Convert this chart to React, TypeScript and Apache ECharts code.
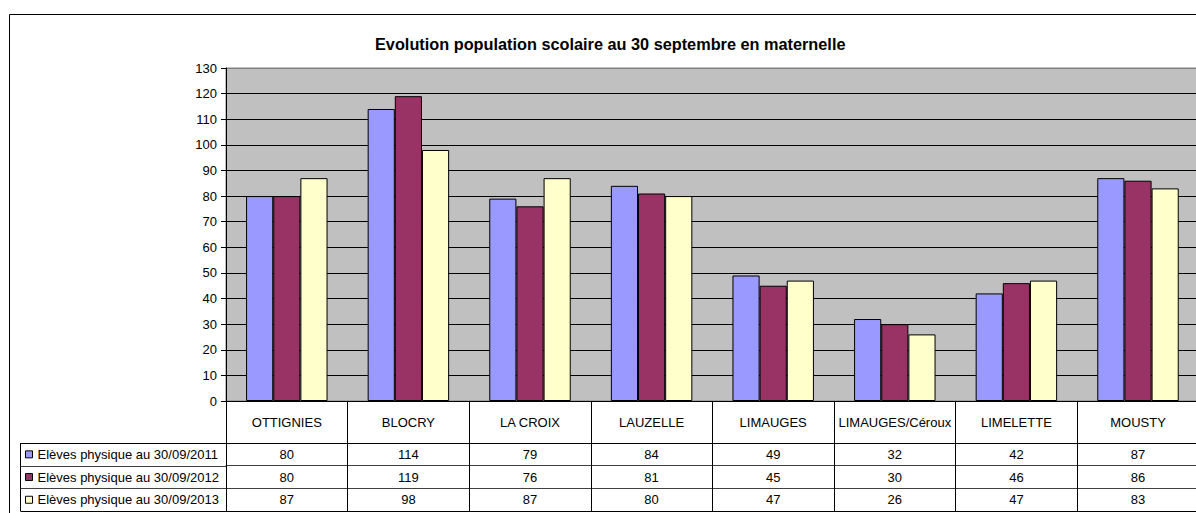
import React, { useEffect, useRef } from "react";
import * as echarts from "echarts";

const categories = [
  "OTTIGNIES",
  "BLOCRY",
  "LA CROIX",
  "LAUZELLE",
  "LIMAUGES",
  "LIMAUGES/Céroux",
  "LIMELETTE",
  "MOUSTY",
];
const seriesNames = [
  "Elèves physique au 30/09/2011",
  "Elèves physique au 30/09/2012",
  "Elèves physique au 30/09/2013",
];
const values2011 = [80, 114, 79, 84, 49, 32, 42, 87];
const values2012 = [80, 119, 76, 81, 45, 30, 46, 86];
const values2013 = [87, 98, 87, 80, 47, 26, 47, 83];
const seriesColors = ["#9999FF", "#993366", "#FFFFCC"];
const yTicks = { min: 0, max: 130, interval: 10 };

const FONT = "'Liberation Sans', Arial, sans-serif";
const GRID_LEFT = 226;
const GRID_TOP = 68;
const CELL_W = 121.6;
const GRID_H = 333;
const HEADER_H = 42;
const ROW_H = 22.7;
const TABLE_LEFT = 20.5;

export default function App() {
  const ref = useRef<HTMLDivElement>(null);
  useEffect(() => {
    if (!ref.current) return;
    const chart = echarts.init(ref.current, null, { renderer: "svg" });
    const rows = [values2011, values2012, values2013];
    const gridBottomY = GRID_TOP + GRID_H;
    const lineCount = (yTicks.max - yTicks.min) / yTicks.interval + 1;
    const splitColors = Array.from({ length: lineCount }, (_, i) =>
      i === lineCount - 1 ? "#808080" : "#000000"
    );

    const rowAxes = rows.map((row, r) => ({
      type: "category",
      gridIndex: 0,
      position: "bottom",
      offset: HEADER_H + r * ROW_H,
      data: categories,
      boundaryGap: true,
      axisLine: { show: true, lineStyle: { color: r === 0 ? "#000" : "#404040", width: 1 } },
      axisTick: { show: true, length: ROW_H, alignWithLabel: false, interval: 0, lineStyle: { color: "#000" } },
      axisLabel: {
        show: true,
        interval: 0,
        margin: ROW_H / 2,
        verticalAlign: "middle",
        fontSize: 13,
        fontFamily: FONT,
        color: "#000",
        formatter: (_v: string, i: number) => String(row[i]),
      },
      splitLine: { show: false },
    }));

    const tableBottomOffset = HEADER_H + 3 * ROW_H;

    const graphicEls: any[] = [
      {
        type: "rect",
        shape: { x: 9.5, y: 14.5, width: 1400, height: 600 },
        style: { fill: "none", stroke: "#000", lineWidth: 1 },
        silent: true,
      },
      {
        type: "line",
        shape: {
          x1: TABLE_LEFT,
          y1: gridBottomY + HEADER_H,
          x2: TABLE_LEFT,
          y2: gridBottomY + tableBottomOffset,
        },
        style: { stroke: "#000", lineWidth: 1 },
        silent: true,
      },
    ];
    for (let r = 0; r <= 3; r++) {
      const y = Math.round(gridBottomY + HEADER_H + r * ROW_H) + 0.5;
      graphicEls.push({
        type: "line",
        shape: { x1: TABLE_LEFT, y1: y, x2: GRID_LEFT, y2: y },
        style: { stroke: r === 0 || r === 3 ? "#000" : "#404040", lineWidth: 1 },
        silent: true,
      });
    }

    chart.setOption({
      animation: false,
      backgroundColor: "#ffffff",
      title: {
        text: "Evolution population scolaire au 30 septembre en maternelle",
        left: 370,
        top: 31,
        textStyle: { fontSize: 16.3, fontWeight: "bold", fontFamily: FONT, color: "#000" },
      },
      legend: {
        orient: "vertical",
        left: 25,
        top: gridBottomY + HEADER_H + (ROW_H - 13) / 2,
        padding: 0,
        itemWidth: 7,
        itemHeight: 7,
        itemGap: ROW_H - 13,
        icon: "rect",
        data: seriesNames,
        textStyle: { fontSize: 13, lineHeight: 13, fontFamily: FONT, color: "#000" },
        itemStyle: { borderColor: "#000", borderWidth: 1 },
        selectedMode: false,
      },
      grid: {
        left: GRID_LEFT,
        top: GRID_TOP,
        width: CELL_W * categories.length,
        height: GRID_H,
        show: true,
        backgroundColor: "#C0C0C0",
        borderColor: "#808080",
        borderWidth: 1,
        containLabel: false,
      },
      xAxis: [
        {
          type: "category",
          position: "bottom",
          data: categories,
          boundaryGap: true,
          axisLine: { show: true, lineStyle: { color: "#000", width: 1 } },
          axisTick: { show: true, length: HEADER_H, alignWithLabel: false, interval: 0, lineStyle: { color: "#000" } },
          axisLabel: {
            interval: 0,
            margin: HEADER_H / 2,
            verticalAlign: "middle",
            fontSize: 13,
            fontFamily: FONT,
            color: "#000",
          },
          splitLine: { show: false },
        },
        ...rowAxes,
        {
          type: "category",
          position: "bottom",
          offset: tableBottomOffset,
          data: categories,
          axisLine: { show: true, lineStyle: { color: "#000", width: 1 } },
          axisTick: { show: false },
          axisLabel: { show: false },
          splitLine: { show: false },
        },
      ],
      yAxis: {
        type: "value",
        min: yTicks.min,
        max: yTicks.max,
        interval: yTicks.interval,
        axisLine: { show: true, lineStyle: { color: "#000", width: 1 } },
        axisTick: { show: true, length: 5, lineStyle: { color: "#000" } },
        axisLabel: { margin: 9, fontSize: 13, fontFamily: FONT, color: "#000" },
        splitLine: { show: true, lineStyle: { color: splitColors, width: 1 } },
      },
      series: rows.map((row, i) => ({
        name: seriesNames[i],
        type: "bar",
        xAxisIndex: 0,
        data: row,
        barGap: "0%",
        barCategoryGap: "33%",
        itemStyle: { color: seriesColors[i], borderColor: "#000", borderWidth: 1 },
        emphasis: { disabled: true },
      })),
      graphic: graphicEls,
    });
    return () => chart.dispose();
  }, []);

  return (
    <div
      style={{
        position: "fixed",
        left: 0,
        top: 0,
        width: 1196,
        height: 513,
        overflow: "hidden",
        background: "#fff",
      }}
    >
      <div ref={ref} style={{ width: 1240, height: 530 }} />
    </div>
  );
}
